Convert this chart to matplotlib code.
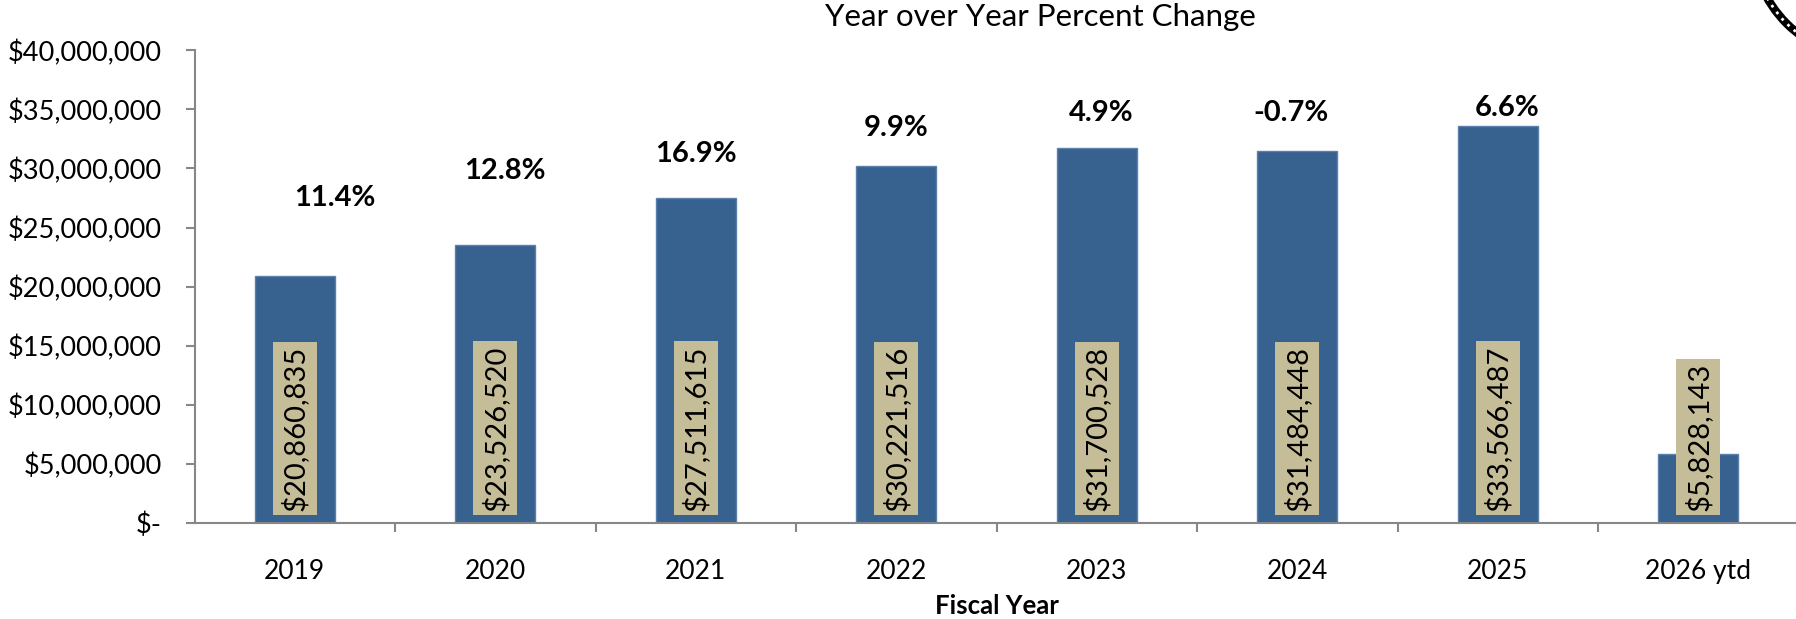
import matplotlib
matplotlib.use("Agg")
import matplotlib.pyplot as plt
from matplotlib.patches import Circle, Rectangle
from matplotlib.ticker import FuncFormatter, MultipleLocator

# data
years = ['2019', '2020', '2021', '2022', '2023', '2024', '2025', '2026 ytd']
revenue = [20860835, 23526520, 27511615, 30221516, 31700528, 31484448, 33566487, 5828143]
pct_change = ['11.4%', '12.8%', '16.9%', '9.9%', '4.9%', '-0.7%', '6.6%']

# where the percent labels sit (hand placed in the original)
pct_label_y = [27.5e6, 29.8e6, 31.25e6, 33.45e6, 34.74e6, 34.74e6, 35.1e6]
pct_label_dx = [0.2, 0.05, 0.0, 0.0, 0.02, -0.03, 0.045]

BAR_COLOR = '#37618F'
BAR_EDGE = '#5B80AE'
LABEL_BG = '#C4BD97'
AXIS_COLOR = '#878787'

plt.rcParams['font.family'] = ['Lato', 'DejaVu Sans']

W, H = 1796, 619
fig = plt.figure(figsize=(W / 100, H / 100), dpi=100)
ax = fig.add_axes([194.5 / W, 1 - 522.7 / H, (1798.5 - 194.5) / W, (522.7 - 50.4) / H])

x = list(range(len(years)))
ax.bar(x, revenue, width=0.4, color=BAR_COLOR, edgecolor=BAR_EDGE, linewidth=1, zorder=2)

ax.set_xlim(-0.5, len(years) - 0.5)
ax.set_ylim(0, 40e6)

# value labels, rotated, inside base
value_texts = []
for i, v in enumerate(revenue):
    t = ax.annotate(f'${v:,.0f}', (i, 0), xytext=(0, 8.6), textcoords='offset points',
                    rotation=90, ha='center', va='bottom', fontsize=21, color='black',
                    zorder=4)
    value_texts.append(t)

# percent change labels
for i, (txt, yy, dx) in enumerate(zip(pct_change, pct_label_y, pct_label_dx)):
    ax.text(i + dx, yy, txt, ha='center', va='center', fontsize=21,
            fontweight='bold', color='black', zorder=3)

# axes styling
for side in ['top', 'right']:
    ax.spines[side].set_visible(False)
for side in ['left', 'bottom']:
    ax.spines[side].set_color(AXIS_COLOR)
    ax.spines[side].set_linewidth(1.5)

ax.yaxis.set_major_locator(MultipleLocator(5e6))
ax.yaxis.set_major_formatter(FuncFormatter(lambda v, p: '$-' if v == 0 else f'${v:,.0f}'))
ax.tick_params(axis='y', direction='out', length=6.5, width=1.5, color=AXIS_COLOR,
               labelsize=19.5, pad=17)

ax.set_xticks(x)
ax.set_xticklabels(years)
ax.set_xticks([i + 0.5 for i in x[:-1]], minor=True)
ax.tick_params(axis='x', which='major', length=0, labelsize=19, pad=26)
ax.tick_params(axis='x', which='minor', direction='out', length=6.5, width=1.5,
               color=AXIS_COLOR)

fig.text(1040 / W, 1 - 26 / H, 'Year over Year Percent Change', ha='center',
         va='baseline', fontsize=22.5)
fig.text(997 / W, 1 - 614 / H, 'Fiscal Year', ha='center', va='baseline',
         fontsize=18.5, fontweight='bold')

# tan boxes behind the value labels, sized from the rendered text
fig.canvas.draw()
renderer = fig.canvas.get_renderer()
for t in value_texts:
    bb = t.get_window_extent(renderer)
    cx = (bb.x0 + bb.x1) / 2
    box = Rectangle((cx - 22, bb.y0 - 4), 44, bb.height + 8, transform=None,
                    fc=LABEL_BG, ec='none', zorder=3)
    ax.add_artist(box)

# corner of the seal peeking in at top right
seal = Circle((1870, H + 60), 118, transform=None, fill=False, ec='black', lw=6)
fig.add_artist(seal)
seal_dots = Circle((1870, H + 60), 118, transform=None, fill=False, ec='white',
                   lw=2, ls=(0, (1, 2)))
fig.add_artist(seal_dots)

fig.savefig('out.png', dpi=100)
plt.close(fig)
